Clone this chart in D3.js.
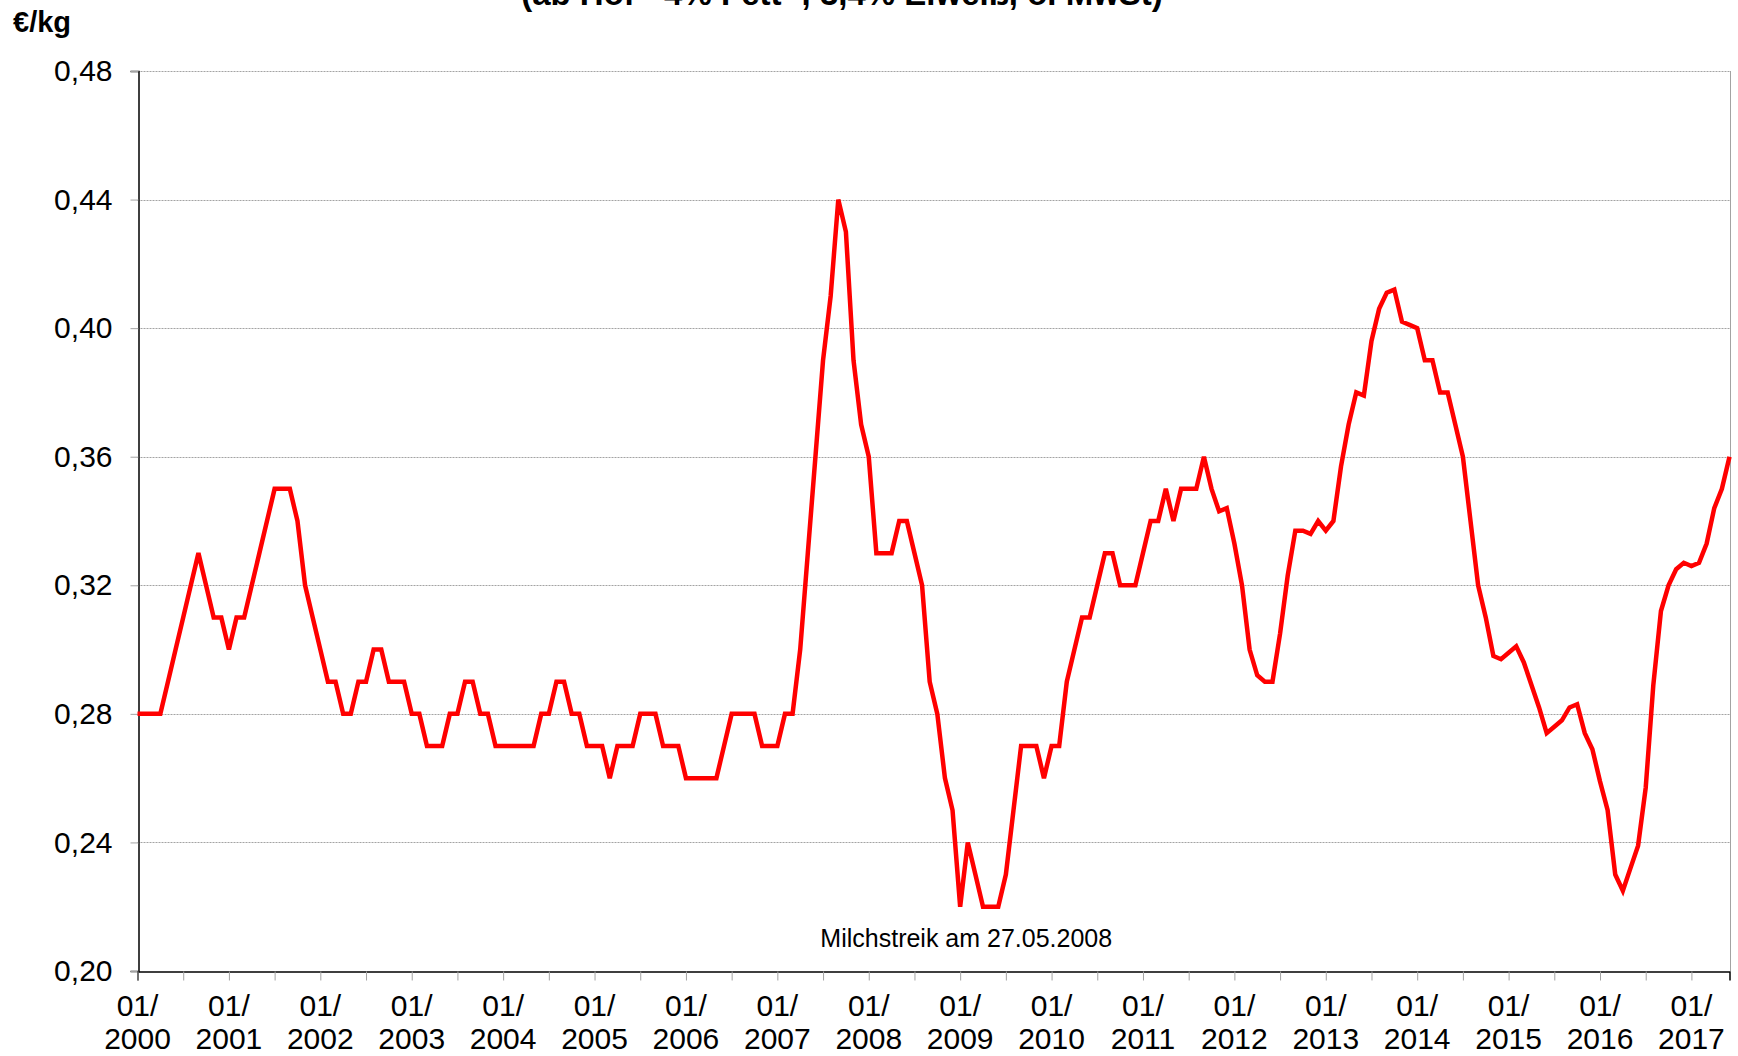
<!DOCTYPE html>
<html>
<head>
<meta charset="utf-8">
<script src="https://cdn.jsdelivr.net/npm/d3@7"></script>
<style>
  html, body { margin: 0; padding: 0; background: #fff; }
  svg { display: block; font-family: "Liberation Sans", Arial, sans-serif; }
</style>
</head>
<body>
<svg id="chart" width="1738" height="1056"></svg>
<script>
// Milk producer price, monthly from 01/2000 to 06/2017 (EUR per kg)
const subtitle = "(ab Hof - 4% Fett -, 3,4% Eiweiß, o. MwSt)";
const unitLabel = "€/kg";
const startYear = 2000;
const yearLabels = ["2000","2001","2002","2003","2004","2005","2006","2007","2008",
                    "2009","2010","2011","2012","2013","2014","2015","2016","2017"];
const yTicks = [0.20, 0.24, 0.28, 0.32, 0.36, 0.40, 0.44, 0.48];
const prices = [
  0.28,0.28,0.28,0.28,0.29,0.30,0.31,0.32,0.33,0.32,0.31,0.31,          // 2000
  0.30,0.31,0.31,0.32,0.33,0.34,0.35,0.35,0.35,0.34,0.32,0.31,          // 2001
  0.30,0.29,0.29,0.28,0.28,0.29,0.29,0.30,0.30,0.29,0.29,0.29,          // 2002
  0.28,0.28,0.27,0.27,0.27,0.28,0.28,0.29,0.29,0.28,0.28,0.27,          // 2003
  0.27,0.27,0.27,0.27,0.27,0.28,0.28,0.29,0.29,0.28,0.28,0.27,          // 2004
  0.27,0.27,0.26,0.27,0.27,0.27,0.28,0.28,0.28,0.27,0.27,0.27,          // 2005
  0.26,0.26,0.26,0.26,0.26,0.27,0.28,0.28,0.28,0.28,0.27,0.27,          // 2006
  0.27,0.28,0.28,0.30,0.33,0.36,0.39,0.41,0.44,0.43,0.39,0.37,          // 2007
  0.36,0.33,0.33,0.33,0.34,0.34,0.33,0.32,0.29,0.28,0.26,0.25,          // 2008
  0.22,0.24,0.23,0.22,0.22,0.22,0.23,0.25,0.27,0.27,0.27,0.26,          // 2009
  0.27,0.27,0.29,0.30,0.31,0.31,0.32,0.33,0.33,0.32,0.32,0.32,          // 2010
  0.33,0.34,0.34,0.35,0.34,0.35,0.35,0.35,0.36,0.35,0.343,0.344,        // 2011
  0.333,0.320,0.300,0.292,0.290,0.290,0.305,0.323,0.337,0.337,0.336,0.340, // 2012
  0.337,0.340,0.357,0.370,0.380,0.379,0.396,0.406,0.411,0.412,0.402,0.401, // 2013
  0.400,0.390,0.390,0.380,0.380,0.370,0.360,0.340,0.320,0.310,0.298,0.297, // 2014
  0.299,0.301,0.296,0.289,0.282,0.274,0.276,0.278,0.282,0.283,0.274,0.269, // 2015
  0.259,0.250,0.230,0.225,0.232,0.239,0.257,0.289,0.312,0.320,0.325,0.327, // 2016
  0.326,0.327,0.333,0.344,0.350,0.360                                     // 2017
];
const noteText = "Milchstreik am 27.05.2008";
const noteMonth = 108.8;   // month index the note is centred on
const noteValue = 0.2075;  // baseline height of the note

const svg = d3.select("#chart");
const W = 1738, H = 1056;
const margin = { top: 71, right: 8.5, bottom: 85, left: 137.5 };
const innerW = W - margin.left - margin.right;
const innerH = H - margin.top - margin.bottom;

const x = d3.scaleLinear().domain([0, prices.length - 1]).range([margin.left, margin.left + innerW]);
const y = d3.scaleLinear().domain([0.20, 0.48]).range([margin.top + innerH, margin.top]);

const gridColor = "#a3a3a3";
const labelSize = 30;

// horizontal gridlines
svg.append("g")
  .selectAll("line")
  .data(yTicks.filter(v => v > 0.20))
  .join("line")
  .attr("x1", x(0)).attr("x2", x(prices.length - 1))
  .attr("y1", d => Math.round(y(d)) + 0.5).attr("y2", d => Math.round(y(d)) + 0.5)
  .attr("stroke", gridColor).attr("stroke-width", 1)
  .attr("stroke-dasharray", "2 1");

// right frame edge
svg.append("line")
  .attr("x1", Math.round(x(prices.length - 1)) + 0.5).attr("x2", Math.round(x(prices.length - 1)) + 0.5)
  .attr("y1", y(0.48)).attr("y2", y(0.20))
  .attr("stroke", gridColor).attr("stroke-width", 1);

// y axis
const yAxis = d3.axisLeft(y)
  .tickValues(yTicks)
  .tickSize(8)
  .tickPadding(18)
  .tickFormat(d => d3.format(".2f")(d).replace(".", ","));
const gy = svg.append("g")
  .attr("transform", `translate(${Math.round(margin.left) + 0.5},0)`)
  .call(yAxis);
gy.select(".domain").attr("stroke", "#000").attr("stroke-width", 1.5);
gy.selectAll(".tick line").attr("stroke", gridColor);
gy.selectAll(".tick text")
  .attr("font-size", labelSize).attr("fill", "#000")
  .attr("font-family", "'Liberation Sans', Arial, sans-serif");

// x axis: ticks every 6 months, year labels each January
const xAxis = d3.axisBottom(x)
  .tickValues(d3.range(0, prices.length, 6))
  .tickSize(9)
  .tickFormat("");
const gx = svg.append("g")
  .attr("transform", `translate(0,${Math.round(y(0.20)) + 0.5})`)
  .call(xAxis);
gx.select(".domain").attr("stroke", "#000").attr("stroke-width", 1.5);
gx.selectAll(".tick line").attr("stroke", gridColor);

const xl = svg.append("g").attr("font-size", labelSize).attr("fill", "#000").attr("text-anchor", "middle");
xl.selectAll("text.m")
  .data(yearLabels)
  .join("text")
  .attr("class", "m")
  .attr("x", (d, i) => x(i * 12))
  .attr("y", 1016)
  .text("01/");
xl.selectAll("text.yr")
  .data(yearLabels)
  .join("text")
  .attr("class", "yr")
  .attr("x", (d, i) => x(i * 12))
  .attr("y", 1049)
  .text(d => d);

// price line
const line = d3.line()
  .x((d, i) => x(i))
  .y(d => y(d));
svg.append("path")
  .datum(prices)
  .attr("d", line)
  .attr("fill", "none")
  .attr("stroke", "#ff0000")
  .attr("stroke-width", 4.5)
  .attr("stroke-linejoin", "miter")
  .attr("stroke-miterlimit", 3);

// annotation
svg.append("text")
  .attr("x", x(noteMonth))
  .attr("y", y(noteValue))
  .attr("text-anchor", "middle")
  .attr("font-size", 25)
  .attr("fill", "#000")
  .text(noteText);

// unit label
svg.append("text")
  .attr("x", 13).attr("y", 32)
  .attr("font-size", 29).attr("font-weight", "bold")
  .attr("fill", "#000")
  .text(unitLabel);

// subtitle (top of the page)
svg.append("text")
  .attr("x", 842).attr("y", 5)
  .attr("text-anchor", "middle")
  .attr("font-size", 33).attr("font-weight", "bold")
  .attr("fill", "#000")
  .text(subtitle);
</script>
</body>
</html>
